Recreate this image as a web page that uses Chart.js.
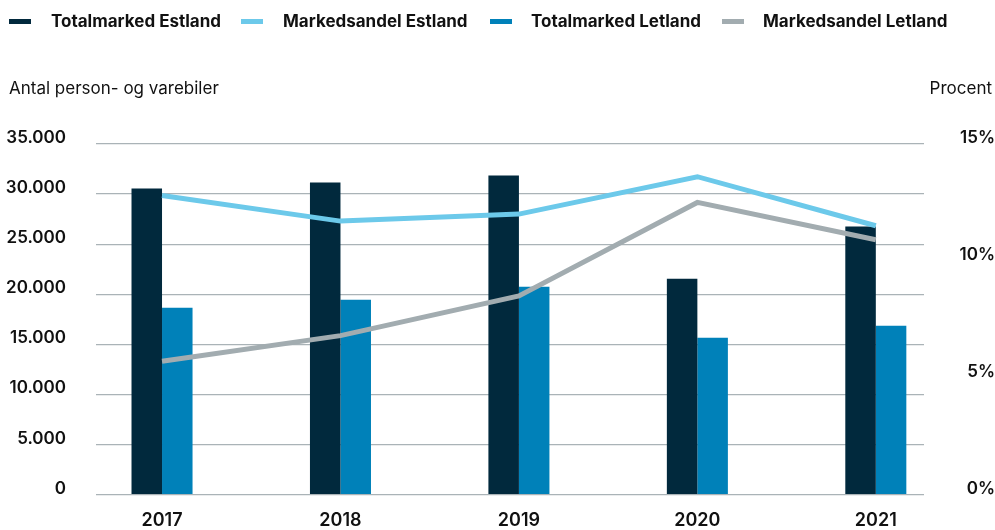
<!DOCTYPE html>
<html>
<head>
<meta charset="utf-8">
<script src="https://cdn.jsdelivr.net/npm/chart.js@4/dist/chart.umd.min.js"></script>
<style>
  html,body{margin:0;padding:0;background:#fff;}
  #wrap{position:relative;width:995px;height:530px;font-family:Inter,"Noto Sans",sans-serif;color:#111;}
  canvas{position:absolute;left:0;top:0;}
  .lg{position:absolute;font-weight:700;font-size:17px;line-height:20px;top:11px;white-space:nowrap;}
  .sw{position:absolute;top:19px;width:22px;height:5px;}
  .ttl{position:absolute;top:78px;font-size:17px;line-height:20px;white-space:nowrap;}
</style>
</head>
<body>
<div id="wrap">
  <canvas id="c" width="995" height="530"></canvas>
  <div id="legend"></div>
  <div class="ttl" style="left:9px;">Antal person- og varebiler</div>
  <div class="ttl" style="right:3px;">Procent</div>
</div>
<script>
const years = [2017, 2018, 2019, 2020, 2021];
const totalEstland = [30550, 31150, 31850, 21550, 26750];
const totalLetland = [18650, 19450, 20750, 15650, 16850];
const shareEstland = [12.8, 11.7, 12.0, 13.6, 11.5];
const shareLetland = [5.7, 6.8, 8.5, 12.5, 10.9];
const leftTicks = [0, 5000, 10000, 15000, 20000, 25000, 30000, 35000];
const rightTicks = [0, 5, 10, 15];

const names = ['Totalmarked Estland', 'Markedsandel Estland', 'Totalmarked Letland', 'Markedsandel Letland'];
const colors = ['#01293d', '#6cc9ea', '#0081b9', '#a2acb0'];

const pts = arr => years.map((y, i) => ({x: y, y: arr[i]}));
const fmtThousands = v => String(v).replace(/\B(?=(\d{3})+(?!\d))/g, '.');

const chart = new Chart(document.getElementById('c'), {
  data: {
    datasets: [
      {type: 'bar', label: names[0], data: pts(totalEstland), backgroundColor: colors[0], yAxisID: 'y', order: 2,
       categoryPercentage: 0.342, barPercentage: 1.0},
      {type: 'line', label: names[1], data: pts(shareEstland), borderColor: colors[1], borderWidth: 5, pointRadius: 0, tension: 0, yAxisID: 'y2', order: 1, borderCapStyle: 'butt'},
      {type: 'bar', label: names[2], data: pts(totalLetland), backgroundColor: colors[2], yAxisID: 'y', order: 2,
       categoryPercentage: 0.342, barPercentage: 1.0},
      {type: 'line', label: names[3], data: pts(shareLetland), borderColor: colors[3], borderWidth: 5, pointRadius: 0, tension: 0, yAxisID: 'y2', order: 0, borderCapStyle: 'butt'}
    ]
  },
  options: {
    responsive: false,
    animation: false,
    layout: {padding: {top: 144, left: 0, right: 0, bottom: 0}},
    plugins: {legend: {display: false}, tooltip: {enabled: false}},
    scales: {
      x: {
        type: 'linear',
        offset: false,
        min: 2016.63, max: 2021.27,
        grid: {display: false, drawTicks: false},
        border: {display: false},
        afterBuildTicks: s => { s.ticks = years.map(v => ({value: v})); },
        afterFit: s => { s.height = 35.5; s.paddingLeft = 0; s.paddingRight = 0; },
        ticks: {callback: v => String(v), color: '#111', padding: 15, font: {family: 'Inter', size: 18, weight: '600'}, maxRotation: 0, autoSkip: false}
      },
      y: {
        position: 'left',
        min: 0, max: 35000,
        afterBuildTicks: s => { s.ticks = leftTicks.map(v => ({value: v})); },
        afterFit: s => { s.width = 96; s.paddingTop = 0; s.paddingBottom = 0; },
        grid: {color: '#aab3b7', lineWidth: 1.2, drawTicks: false},
        border: {display: false},
        ticks: {callback: v => fmtThousands(v), color: '#111', padding: 30, labelOffset: -6, font: {family: 'Inter', size: 17, weight: '600'}}
      },
      y2: {
        position: 'right',
        min: 0, max: 15,
        afterBuildTicks: s => { s.ticks = rightTicks.map(v => ({value: v})); },
        afterFit: s => { s.width = 71; s.paddingTop = 0; s.paddingBottom = 0; },
        grid: {display: false, drawTicks: false},
        border: {display: false},
        ticks: {callback: v => v + '%', color: '#111', padding: 34, crossAlign: 'far', labelOffset: -6, font: {family: 'Inter', size: 17, weight: '600'}}
      }
    }
  }
});

// HTML legend built from dataset labels/colors
const lgPos = [[9, 51], [241, 283], [490, 531], [722, 763]];
const lg = document.getElementById('legend');
chart.data.datasets.forEach((ds, i) => {
  const sw = document.createElement('div');
  sw.className = 'sw';
  sw.style.left = lgPos[i][0] + 'px';
  sw.style.background = ds.type === 'bar' ? ds.backgroundColor : ds.borderColor;
  lg.appendChild(sw);
  const t = document.createElement('div');
  t.className = 'lg';
  t.style.left = lgPos[i][1] + 'px';
  t.textContent = ds.label;
  lg.appendChild(t);
});
</script>
</body>
</html>
